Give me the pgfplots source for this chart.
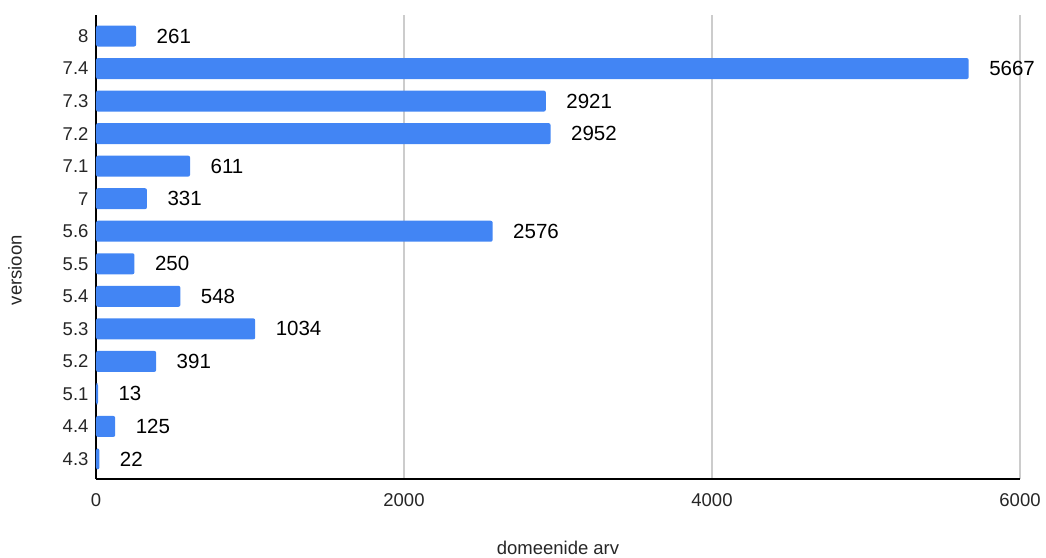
\documentclass[border=0pt]{standalone}
\usepackage{pgfplots}
\pgfplotsset{compat=1.18}
\usepackage{fontspec}
\setmainfont{Liberation Sans}
\definecolor{barblue}{HTML}{4285F4}
\definecolor{gridgray}{HTML}{CCCCCC}
\begin{document}
\begin{tikzpicture}[x=1pt,y=1pt]
\useasboundingbox (-96pt,-78pt) rectangle (950pt,479pt);
\begin{axis}[
  at={(0pt,0pt)}, anchor=south west,
  scale only axis, width=924pt, height=464pt,
  xbar, bar width=21pt,
  xmin=0, xmax=6000,
  ymin=-0.615, ymax=13.646,
  xtick={0,2000,4000,6000},
  ytick={0,...,13},
  yticklabels={4.3,4.4,5.1,5.2,5.3,5.4,5.5,5.6,7,7.1,7.2,7.3,7.4,8},
  axis x line*=bottom, axis y line*=left,
  axis line style={black, line width=1.6pt},
  x axis line style={-}, y axis line style={-},
  xmajorgrids, grid style={gridgray, line width=1.3pt},
  major tick length=0pt,
  tick style={draw=none},
  /pgf/number format/1000 sep={},
  /pgf/number format/assume math mode=true,
  ticklabel style={font=\fontsize{18.5}{20}\selectfont, text=black!85},
  xticklabel style={yshift=-11pt},
  yticklabel style={xshift=-4pt},
  nodes near coords,
  every node near coord/.append style={anchor=west, xshift=17pt, font=\fontsize{20.5}{23}\selectfont, text=black},
  xlabel={domeenide arv}, ylabel={versioon},
  label style={font=\fontsize{18.5}{20}\selectfont, text=black!85},
  xlabel style={at={(rel axis cs:0.5,0)}, anchor=center, yshift=-69pt},
  ylabel style={at={(rel axis cs:0,0.45)}, anchor=center, yshift=81pt},
  clip=false,
]
\addplot[fill=barblue, draw=none, rounded corners=2pt] coordinates {
(22,0) (125,1) (13,2) (391,3) (1034,4) (548,5) (250,6) (2576,7) (331,8) (611,9) (2952,10) (2921,11) (5667,12) (261,13)
};
\end{axis}
\end{tikzpicture}
\end{document}
